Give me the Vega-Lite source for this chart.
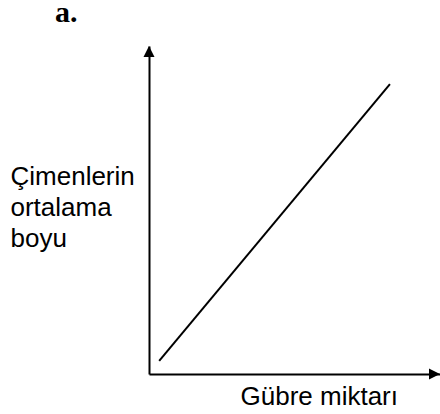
{
  "$schema": "https://vega.github.io/schema/vega-lite/v6.json",
  "width": 291,
  "height": 328,
  "autosize": "none",
  "padding": {"left": 149, "top": 46, "right": 0, "bottom": 40},
  "background": "white",
  "title": {
    "text": "a.",
    "anchor": "start",
    "frame": "group",
    "font": "Liberation Serif",
    "fontSize": 30,
    "fontWeight": "bold",
    "color": "black",
    "dx": -94,
    "offset": 18
  },
  "config": {"view": {"stroke": null}},
  "datasets": {
    "curve": [
      {"gubre": 3.5, "boy": 4.0},
      {"gubre": 82.8, "boy": 88.4}
    ],
    "arrowUp": [{"gubre": 0, "boy": 98.3}],
    "arrowRight": [{"gubre": 98.1, "boy": 0}]
  },
  "layer": [
    {
      "data": {"name": "curve"},
      "mark": {"type": "line", "color": "black", "strokeWidth": 2},
      "encoding": {
        "x": {
          "field": "gubre",
          "type": "quantitative",
          "scale": {"domain": [0, 100], "nice": false},
          "axis": {
            "title": "Gübre miktarı",
            "titleFont": "Liberation Sans",
            "titleFontSize": 26,
            "titleFontWeight": "normal",
            "titleColor": "black",
            "titleAlign": "left",
            "titleBaseline": "alphabetic",
            "titleX": 91,
            "titleY": 30,
            "domainColor": "black",
            "domainWidth": 2,
            "ticks": false,
            "labels": false,
            "grid": false
          }
        },
        "y": {
          "field": "boy",
          "type": "quantitative",
          "scale": {"domain": [0, 100], "nice": false},
          "axis": {
            "title": ["Çimenlerin", "ortalama", "boyu"],
            "titleFont": "Liberation Sans",
            "titleFontSize": 26,
            "titleFontWeight": "normal",
            "titleColor": "black",
            "titleAngle": 0,
            "titleAlign": "left",
            "titleBaseline": "alphabetic",
            "titleLineHeight": 31,
            "titleX": -139,
            "titleY": 138,
            "domainColor": "black",
            "domainWidth": 2,
            "ticks": false,
            "labels": false,
            "grid": false
          }
        }
      }
    },
    {
      "data": {"name": "arrowUp"},
      "mark": {"type": "point", "shape": "M-1,1L1,1L0,-1Z", "filled": true, "color": "black", "opacity": 1, "size": 121},
      "encoding": {
        "x": {"field": "gubre", "type": "quantitative"},
        "y": {"field": "boy", "type": "quantitative"}
      }
    },
    {
      "data": {"name": "arrowRight"},
      "mark": {"type": "point", "shape": "M-1,-1L1,0L-1,1Z", "filled": true, "color": "black", "opacity": 1, "size": 121},
      "encoding": {
        "x": {"field": "gubre", "type": "quantitative"},
        "y": {"field": "boy", "type": "quantitative"}
      }
    }
  ]
}
